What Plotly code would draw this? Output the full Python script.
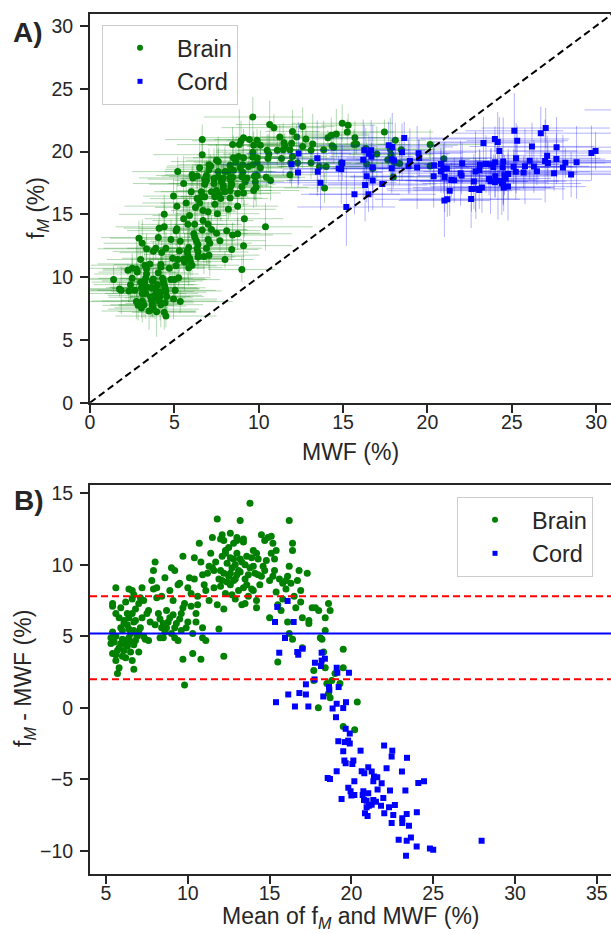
import plotly.graph_objects as go

# ---------------- data (panel B coordinates) ----------------
# Brain: mean of fM and MWF (%), and difference fM - MWF (%)
brain_mean = [
    5.3, 5.3, 5.4, 5.4, 5.4, 5.6, 5.7, 5.8, 5.6, 5.6,
    5.9, 6.1, 6.4, 6.4, 6.6, 6.7, 6.7, 6.6, 6.2, 7.0,
    5.9, 6.1, 6.4, 6.6, 6.8, 7.1, 5.6, 5.9, 6.1, 6.5,
    6.7, 7.0, 7.1, 7.2, 7.5, 7.6, 7.8, 7.9, 8.0, 8.1,
    8.1, 8.3, 8.5, 8.4, 8.5, 8.6, 8.7, 8.9, 9.0, 9.2,
    9.1, 9.2, 9.4, 9.5, 9.7, 9.7, 9.8, 9.6, 9.9, 9.7,
    10.0, 10.1, 10.3, 10.4, 10.5, 10.5, 10.7, 10.8, 10.9, 10.9,
    11.1, 11.1, 11.3, 11.4, 11.5, 11.6, 11.8, 11.9, 12.1, 12.2,
    12.2, 12.3, 12.6, 12.8, 13.0, 13.2, 13.1, 13.4, 13.5, 13.8,
    13.9, 14.0, 14.2, 14.3, 14.5, 14.7, 15.0, 15.1, 15.2, 15.3,
    15.4, 15.5, 15.5, 15.7, 15.8, 16.0, 16.2, 16.1, 16.2, 16.4,
    16.4, 16.4, 16.6, 16.8, 16.9, 17.0, 17.0, 17.3, 17.4, 17.4,
    17.6, 17.7, 17.7, 17.8, 17.98, 18.0, 18.1, 18.2, 18.3, 18.4,
    18.4, 18.4, 18.5, 18.6, 18.6, 18.7, 18.7, 18.8, 19.0, 19.3,
    19.5, 19.5, 19.5, 20.2, 20.36,
    11.5, 11.7, 11.9, 12.0, 12.1, 12.2, 12.3, 12.4, 12.5, 12.5,
    12.6, 12.7, 12.8, 12.9, 12.9, 13.0, 13.1, 13.2, 13.3, 13.4,
    13.5, 13.6, 13.7, 13.8, 14.0, 14.1, 14.3, 14.4, 14.6, 14.8,
    15.0, 15.2, 15.4, 15.6, 15.8, 16.0, 16.1, 16.3, 16.5, 16.7,
    16.9, 11.0, 11.2, 10.8, 10.6, 10.4, 10.2, 11.8, 12.2, 12.0,
    12.6, 13.0, 13.4, 14.9, 15.1, 14.5, 13.9, 12.8, 13.3, 14.2,
    5.6, 5.8, 6.0, 6.2, 6.3, 6.5, 6.7, 6.9, 6.0, 5.5,
    6.3, 6.6, 6.8, 7.2, 7.4, 7.7, 8.0, 8.2, 8.6, 8.8,
    9.0, 9.1, 9.3, 9.5, 9.8, 10.0, 10.2, 8.4, 8.9, 9.4,
    7.9, 7.3,
    12.0, 12.3, 12.6, 12.9, 13.2, 13.5, 13.7, 14.0, 12.4, 13.0,
    12.1, 13.6, 14.2, 11.6, 11.3, 10.9, 12.7, 14.7, 15.3, 16.2,
    5.4, 5.7, 6.0, 6.1, 6.3, 6.4, 6.5, 6.7, 6.8, 7.0,
    5.8, 6.2, 7.3, 7.6, 8.3, 8.7, 9.2, 9.6, 10.3, 10.6,
]
brain_diff = [
    4.9, 4.5, 3.8, 7.3, 7.1, 8.4, 2.4, 2.8, 3.3, 3.7,
    4.5, 4.0, 4.9, 8.3, 8.2, 7.9, 2.7, 3.3, 3.5, 3.9,
    5.6, 6.1, 6.3, 6.6, 6.1, 5.6, 6.6, 7.0, 4.5, 4.6,
    5.4, 7.3, 7.7, 8.4, 6.6, 4.7, 8.9, 9.6, 10.2, 8.4,
    7.7, 4.9, 4.9, 5.6, 5.9, 9.1, 6.8, 6.3, 9.8, 9.6,
    7.5, 4.9, 4.7, 8.7, 3.4, 10.6, 1.6, 5.4, 5.6, 7.0,
    8.4, 9.1, 3.8, 10.5, 6.6, 6.0, 11.5, 3.4, 4.9, 5.6,
    4.7, 8.2, 7.5, 10.8, 11.9, 9.6, 13.2, 5.5, 12.1, 3.6,
    11.7, 11.0, 10.5, 11.5, 11.9, 13.1, 9.6, 8.4, 7.3, 14.3,
    10.5, 8.2, 7.0, 9.3, 12.1, 11.7, 6.3, 10.8, 11.5, 9.6,
    11.0, 7.2, 3.2, 6.8, 8.7, 8.9, 13.1, 6.0, 5.2, 4.8,
    11.5, 11.0, 7.0, 9.6, 8.2, 6.3, 4.2, 9.4, 6.1, 5.9,
    7.0, 2.6, 1.9, 7.0, 0.0, 6.8, 4.9, 4.8, 3.9, 6.3,
    5.4, 2.8, 1.7, 7.3, 1.0, 6.8, 0.7, 1.9, 2.4, 1.7,
    2.8, 4.1, -1.31, -1.54, 0.4,
    9.8, 10.2, 9.0, 8.5, 10.6, 9.4, 8.0, 10.1, 9.2, 11.2,
    8.6, 9.8, 10.4, 7.6, 9.0, 10.8, 8.2, 9.5, 10.2, 11.6,
    9.0, 10.6, 7.8, 9.8, 11.0, 9.4, 10.4, 8.6, 9.9, 10.3,
    8.9, 9.2, 8.1, 9.0, 7.6, 8.3, 9.2, 8.7, 7.8, 8.9,
    7.4, 8.6, 9.4, 10.2, 7.8, 9.0, 8.0, 7.2, 6.9, 11.8,
    12.2, 11.7, 11.8, 11.9, 12.0, 9.2, 8.3, 8.9, 7.2, 7.5,
    5.0, 4.2, 5.4, 4.7, 5.8, 5.2, 4.4, 5.0, 3.6, 4.6,
    6.6, 7.6, 6.9, 6.3, 4.8, 6.0, 5.8, 6.6, 5.3, 6.0,
    5.2, 6.5, 5.9, 6.2, 7.3, 6.0, 7.1, 7.8, 8.2, 8.6,
    8.3, 7.5,
    9.6, 10.8, 9.4, 10.0, 10.4, 10.0, 9.3, 9.9, 8.8, 9.3,
    8.9, 8.6, 10.8, 8.4, 9.9, 9.3, 7.9, 9.6, 10.4, 9.9,
    5.3, 4.0, 4.8, 5.9, 4.3, 5.5, 3.9, 6.0, 4.7, 5.3,
    6.3, 7.4, 5.0, 6.8, 6.2, 5.6, 5.6, 6.6, 5.2, 7.2,
]
# Brain error bars (panel A): MWF spread and fM spread (%)
brain_mwf_err = [
    2.1, 1.6, 2.8, 3.2, 1.4, 2.5, 3.0, 1.9, 2.3, 2.7,
    1.8, 3.4, 2.2, 1.5, 2.9, 2.0, 3.1, 2.6, 1.7, 2.4,
    3.3, 1.9, 2.1, 2.8, 1.6, 2.5, 3.0, 2.2, 1.8, 2.7,
    2.4, 1.5, 3.2, 2.0, 2.6, 1.9, 2.9, 2.3, 1.7, 3.1,
    2.5, 2.0, 2.8, 1.6, 2.2, 3.4, 1.9, 2.6, 2.1, 2.9,
    1.8, 2.4, 3.0, 2.2, 1.7, 2.7, 2.0, 3.3, 2.5, 1.9,
    2.8, 2.3, 1.6, 3.1, 2.1, 2.6, 1.8, 2.9, 2.4, 2.0,
    3.2, 1.7, 2.5, 2.2, 3.0, 1.9, 2.7, 2.3, 1.6, 2.8,
    2.1, 3.4, 2.0, 2.6, 1.8, 2.9, 2.4, 1.7, 3.1, 2.2,
    2.5, 1.9, 2.8, 2.0, 3.3, 2.3, 1.6, 2.7, 2.1, 3.0,
    1.8, 2.6, 2.4, 3.2, 1.9, 2.2, 2.9, 1.7, 2.5, 2.8,
    2.0, 3.1, 2.3, 1.6, 2.7, 2.4, 3.0, 1.9, 2.6, 2.1,
    3.4, 1.8, 2.5, 2.2, 2.9, 2.0, 3.3, 1.7, 2.4, 2.8,
    2.1, 2.6, 1.9, 3.0, 2.3, 1.6, 2.7, 2.5, 3.2, 2.0,
    1.8, 2.9, 2.2, 2.6, 3.1, 1.7, 2.4, 2.0, 2.8, 3.3,
    2.3, 1.9, 2.7, 2.1, 3.0, 2.5, 1.6, 2.9, 2.2, 2.6,
    3.2, 1.8, 2.4, 2.0, 2.8, 3.4, 2.1, 1.7, 2.5, 2.9,
    2.3, 3.0, 1.9, 2.6, 2.2, 1.8, 2.7, 3.1, 2.4, 2.0,
    2.8, 1.6, 2.5, 3.3, 2.1, 2.9, 1.9, 2.3, 2.6, 3.0,
    2.2, 1.7, 2.8, 2.4, 3.2, 2.0, 2.6, 1.8, 2.9, 2.5,
    3.1, 2.1, 1.9, 2.7, 2.3, 3.0, 1.6, 2.4, 2.8, 2.2,
    2.6, 3.3, 1.8, 2.5, 2.0, 2.9, 2.3, 3.1, 1.7, 2.7,
    2.1, 2.4, 3.0, 1.9, 2.6, 2.2, 2.8, 1.8, 2.5, 3.2,
    2.0, 2.7, 2.3, 1.6, 2.9, 2.4, 3.1,
    2.4, 1.9, 2.7, 2.2, 3.0, 1.8, 2.5, 2.9, 2.1, 2.6,
    1.7, 3.2, 2.3, 2.0, 2.8, 2.4, 1.9, 3.1, 2.2, 2.6,
    2.9, 2.0, 2.5, 3.3, 1.8, 2.7, 2.2, 3.0, 2.4, 1.9,
    2.6, 3.2, 2.1, 2.8, 1.7, 2.5, 3.0, 2.3, 2.7, 2.0,
]
brain_fm_err = [
    1.2, 0.8, 1.5, 0.6, 1.9, 1.1, 0.9, 1.4, 2.0, 0.7,
    1.3, 1.0, 1.7, 0.5, 1.2, 2.2, 0.9, 1.6, 1.1, 0.8,
    1.4, 1.8, 0.6, 1.0, 1.5, 2.4, 0.9, 1.2, 1.7, 1.1,
    0.8, 1.3, 2.0, 1.0, 1.6, 0.7, 1.2, 1.9, 1.4, 0.9,
    1.1, 1.5, 0.8, 2.3, 1.0, 1.3, 1.7, 0.6, 1.2, 1.8,
    0.9, 1.4, 1.1, 2.1, 0.7, 1.6, 1.0, 1.3, 2.6, 0.8,
    1.5, 1.2, 0.9, 1.8, 1.1, 0.6, 1.4, 2.0, 1.0, 1.7,
    1.3, 0.8, 1.6, 1.1, 2.2, 0.9, 1.2, 1.5, 0.7, 1.9,
    1.0, 1.4, 2.4, 0.8, 1.3, 1.1, 1.7, 0.6, 1.5, 1.2,
    2.0, 0.9, 1.6, 1.0, 1.4, 2.8, 0.7, 1.1, 1.8, 1.3,
    0.9, 1.5, 1.2, 0.8, 2.1, 1.0, 1.6, 1.3, 0.7, 1.4,
    1.9, 1.1, 0.8, 1.7, 1.2, 2.3, 0.9, 1.5, 1.0, 1.3,
    0.6, 1.8, 1.1, 1.4, 0.9, 2.0, 1.2, 0.8, 1.6, 1.0,
    1.3, 2.2, 0.7, 1.5, 1.1, 0.9, 1.7, 1.2, 2.5, 0.8,
    1.4, 1.0, 1.6, 0.9, 1.2, 2.1, 0.7, 1.3, 1.8, 1.1,
    0.8, 1.5, 1.2, 1.9, 1.0, 0.6, 1.4, 2.3, 1.1, 1.7,
    0.9, 1.3, 1.6, 0.8, 2.0, 1.2, 1.0, 1.5, 0.7, 1.8,
    1.1, 1.4, 2.2, 0.9, 1.3, 1.0, 1.6, 0.8, 1.2, 1.9,
    1.5, 0.7, 1.1, 1.7, 1.0, 2.4, 1.3, 0.9, 1.4, 1.2,
    1.8, 1.0, 0.8, 1.5, 1.1, 2.1, 0.9, 1.3, 1.6, 0.7,
    1.2, 1.9, 1.0, 1.4, 0.8, 1.7, 1.1, 2.0, 1.3, 0.9,
    1.5, 1.2, 0.6, 1.8, 1.0, 1.4, 2.2, 0.9, 1.1, 1.6,
    1.3, 0.8, 1.5, 1.2, 1.9, 1.0, 1.7, 0.7, 1.4, 1.1,
    2.0, 0.9, 1.3, 1.6, 1.2, 0.8, 1.5,
    1.1, 1.6, 0.8, 1.3, 2.0, 0.9, 1.4, 1.7, 1.0, 1.2,
    1.8, 0.7, 1.5, 1.1, 2.2, 1.3, 0.9, 1.6, 1.2, 1.0,
    1.4, 0.8, 1.7, 1.2, 1.9, 1.0, 1.5, 0.9, 2.1, 1.3,
    1.1, 1.6, 0.8, 1.4, 1.8, 1.2, 1.0, 1.5, 0.9, 1.3,
]

# Cord: mean of fM and MWF (%), and difference fM - MWF (%)
cord_mean = [
    15.47, 16.1, 15.33, 16.47, 15.94, 15.59, 16.69, 16.75, 17.02, 18.18,
    17.77, 18.18, 18.38, 18.14, 19.1, 19.14, 19.85, 17.22, 17.75, 18.63,
    18.65, 19.22, 16.14, 16.82, 17.22, 18.28, 15.39, 16.55, 17.37, 19.1,
    19.67, 18.85, 19.5, 19.06,
    19.65, 19.9, 19.2, 19.6, 19.8, 19.9, 19.5, 20.56, 22.0, 22.5,
    22.46, 23.4, 19.57, 19.65, 20.12, 20.06, 19.1, 21.03, 20.63, 20.79,
    21.24, 21.38, 21.58, 22.15, 23.09, 24.09, 24.44, 18.55, 18.69, 20.18,
    21.34, 21.85, 19.81, 19.95, 20.0, 20.18, 20.73, 20.69, 21.03, 21.6,
    22.36, 23.3, 19.4, 20.77, 20.93, 21.34, 21.5, 21.95, 20.93, 21.07,
    21.24, 21.81, 22.3, 22.66, 20.83, 20.99, 22.01, 22.56, 23.38, 24.0,
    22.46, 23.11, 23.11, 23.52, 22.89, 23.38, 23.64, 23.99, 23.34, 24.8,
    25.0, 27.96,
]
cord_diff = [
    7.05, 7.47, 6.0, 6.0, 4.88, 3.85, 3.9, 3.71, 4.13, 3.85,
    3.15, 3.3, 3.43, 2.92, 2.8, 2.45, 2.45, 1.64, 1.98, 1.45,
    1.26, 1.45, 0.93, 1.03, 0.93, 0.79, 0.39, 0.09, 0.09, 0.28,
    0.39, -0.05, -0.02, -0.66,
    -1.47, -1.8, -2.34, -2.4, -2.3, -2.5, -3.04, -3.0, -2.64, -3.0,
    -3.41, -3.5, -3.69, -3.88, -3.69, -3.93, -4.44, -4.16, -4.44, -4.58,
    -4.46, -4.81, -4.86, -4.23, -4.46, -5.26, -5.14, -4.91, -4.98, -5.14,
    -5.14, -5.28, -5.6, -5.84, -6.14, -6.1, -5.84, -6.1, -5.98, -5.72,
    -5.79, -5.79, -6.38, -6.45, -6.5, -6.45, -6.57, -6.31, -6.96, -6.85,
    -6.78, -6.85, -6.96, -6.8, -7.38, -7.57, -7.38, -7.5, -7.43, -7.31,
    -8.06, -7.73, -8.06, -8.25, -9.23, -9.3, -9.07, -9.7, -10.35, -9.84,
    -9.93, -9.3,
]
cord_mwf_err = [
    4.2, 3.1, 5.0, 2.6, 3.8, 4.5, 2.9, 3.4, 5.3, 2.7,
    3.9, 4.8, 3.2, 2.5, 4.1, 3.6, 5.5, 2.8, 3.3, 4.6,
    3.0, 4.4, 2.7, 3.7, 5.1, 3.5, 2.9, 4.0, 3.2, 4.9,
    2.6, 3.8, 4.3, 3.1, 5.2, 2.8, 3.6, 4.7, 3.0, 4.1,
    5.6, 3.3, 2.7, 4.4, 3.9, 2.9, 5.0, 3.5, 4.2, 2.6,
    3.7, 4.8, 3.1, 5.4, 2.8, 4.0, 3.4, 4.6, 3.0, 5.1,
    3.8, 2.7, 4.3, 3.2, 4.9, 3.6, 2.9, 5.3, 3.9, 4.1,
    3.0, 4.5, 3.4, 2.8, 5.0, 3.7, 4.2, 3.1, 5.5, 2.9,
    4.0, 3.5, 4.7, 3.3, 2.7, 4.4, 3.8, 5.2, 3.0, 4.6,
    3.2, 4.9, 2.8, 3.6, 5.1, 4.1, 3.4, 2.9, 4.3, 3.7,
    5.8, 3.1, 4.5, 3.9, 4.8, 3.3,
]
cord_fm_err = [
    1.8, 2.5, 1.2, 3.0, 1.6, 2.2, 1.0, 2.8, 1.4, 2.0,
    3.2, 1.5, 2.4, 1.1, 1.9, 2.7, 1.3, 2.1, 3.4, 1.7,
    1.0, 2.3, 1.6, 2.9, 1.2, 2.0, 3.1, 1.4, 1.8, 2.6,
    1.1, 2.2, 1.5, 3.3, 1.9, 1.3, 2.5, 1.7, 2.0, 1.2,
    2.8, 1.6, 2.1, 1.0, 2.4, 3.0, 1.4, 1.8, 2.6, 1.5,
    2.0, 1.1, 3.2, 1.7, 2.3, 1.3, 1.9, 2.7, 1.2, 2.1,
    1.6, 2.9, 1.4, 2.2, 1.0, 3.5, 1.8, 2.4, 1.5, 2.0,
    1.3, 2.6, 1.7, 1.1, 2.8, 1.9, 2.3, 1.2, 3.1, 1.6,
    2.0, 1.4, 2.5, 1.8, 1.0, 2.2, 3.0, 1.5, 1.9, 2.7,
    1.3, 2.1, 1.6, 2.4, 1.1, 3.3, 1.7, 2.0, 1.4, 2.6,
    1.2, 2.9, 1.8, 2.2, 1.5, 2.0,
]

bias = 5.2
loa_upper = 7.8
loa_lower = 2.0
identity_line = [0, 31]

ticks_a = [0, 5, 10, 15, 20, 25, 30]
ticks_bx = [5, 10, 15, 20, 25, 30, 35]
ticks_by = [-10, -5, 0, 5, 10, 15]

# panel A values from panel B values
brain_mwf = [m - d / 2 for m, d in zip(brain_mean, brain_diff)]
brain_fm = [m + d / 2 for m, d in zip(brain_mean, brain_diff)]
cord_mwf = [m - d / 2 for m, d in zip(cord_mean, cord_diff)]
cord_fm = [m + d / 2 for m, d in zip(cord_mean, cord_diff)]

# ---------------- styling ----------------
W, H = 611, 934
FONT = "Liberation Sans, Arial, sans-serif"
INK = "#262626"
GREEN = "#008000"
BLUE = "#0000ff"


def px_x(p):
    return p / W


def px_y(p):
    return 1 - p / H


fig = go.Figure()

fig.add_trace(go.Scatter(
    x=brain_mwf, y=brain_fm, mode="markers", xaxis="x", yaxis="y",
    marker=dict(symbol="circle", size=7, color=GREEN),
    error_x=dict(type="data", array=brain_mwf_err, color="rgba(0,128,0,0.3)", thickness=1, width=0),
    error_y=dict(type="data", array=brain_fm_err, color="rgba(0,128,0,0.3)", thickness=1, width=0),
    showlegend=False, hoverinfo="skip"))
fig.add_trace(go.Scatter(
    x=cord_mwf, y=cord_fm, mode="markers", xaxis="x", yaxis="y",
    marker=dict(symbol="square", size=6, color=BLUE),
    error_x=dict(type="data", array=cord_mwf_err, color="rgba(0,0,255,0.3)", thickness=1, width=0),
    error_y=dict(type="data", array=cord_fm_err, color="rgba(0,0,255,0.3)", thickness=1, width=0),
    showlegend=False, hoverinfo="skip"))
fig.add_trace(go.Scatter(
    x=identity_line, y=identity_line, mode="lines", xaxis="x", yaxis="y",
    line=dict(color="black", width=2, dash="7px,4px"), showlegend=False, hoverinfo="skip"))

fig.add_trace(go.Scatter(
    x=brain_mean, y=brain_diff, mode="markers", xaxis="x2", yaxis="y2",
    marker=dict(symbol="circle", size=7, color=GREEN), showlegend=False, hoverinfo="skip"))
fig.add_trace(go.Scatter(
    x=cord_mean, y=cord_diff, mode="markers", xaxis="x2", yaxis="y2",
    marker=dict(symbol="square", size=6, color=BLUE), showlegend=False, hoverinfo="skip"))

# legend-only entries (small markers like the original)
for name, sym, size, col, lg, xa, ya in [
    ("Brain", "circle", 6, GREEN, "legend", "x", "y"),
    ("Cord", "square", 5, BLUE, "legend", "x", "y"),
    ("Brain", "circle", 6, GREEN, "legend2", "x2", "y2"),
    ("Cord", "square", 5, BLUE, "legend2", "x2", "y2"),
]:
    fig.add_trace(go.Scatter(x=[None], y=[None], mode="markers", name=name, legend=lg,
                             xaxis=xa, yaxis=ya,
                             marker=dict(symbol=sym, size=size, color=col)))

shapes = []
for yv, col, dash in [(loa_upper, "red", "7px,4px"), (bias, BLUE, "solid"), (loa_lower, "red", "7px,4px")]:
    shapes.append(dict(type="line", xref="x2 domain", yref="y2", x0=0, x1=1, y0=yv, y1=yv,
                       line=dict(color=col, width=2, dash=dash), layer="above"))

axis_common = dict(
    showgrid=False, zeroline=False, showline=True, linecolor=INK, linewidth=2,
    ticks="outside", ticklen=8, tickwidth=2, tickcolor=INK, automargin=False,
    tickfont=dict(family=FONT, size=19.5, color=INK),
)

dom_x = [90 / W, 1.0]
fig.update_layout(
    template="none",
    width=W, height=H, margin=dict(l=0, r=0, t=0, b=0, pad=0), autosize=False,
    paper_bgcolor="white", plot_bgcolor="white",
    font=dict(family=FONT, color=INK),
    xaxis=dict(domain=dom_x, range=[0, 30.88], tickvals=ticks_a, anchor="y", mirror=True,
               ticklabelstandoff=-7, **axis_common),
    yaxis=dict(domain=[px_y(402.7), px_y(14)], range=[0, 30.95], tickvals=ticks_a, anchor="x",
               ticklabelstandoff=3, **axis_common),
    xaxis2=dict(domain=dom_x, range=[4.02, 35.87], tickvals=ticks_bx, anchor="y2", mirror=True,
                ticklabelstandoff=-7, **axis_common),
    yaxis2=dict(domain=[px_y(873.5), px_y(484.7)], range=[-11.59, 15.6], tickvals=ticks_by, anchor="x2",
                ticklabelstandoff=3, **axis_common),
    legend=dict(x=px_x(102), y=px_y(25), xanchor="left", yanchor="top",
                bgcolor="rgba(255,255,255,0.8)", bordercolor="#cccccc", borderwidth=1,
                font=dict(family=FONT, size=23.5, color=INK), itemwidth=64, tracegroupgap=0),
    legend2=dict(x=px_x(457), y=px_y(497), xanchor="left", yanchor="top",
                 bgcolor="rgba(255,255,255,0.8)", bordercolor="#cccccc", borderwidth=1,
                 font=dict(family=FONT, size=23.5, color=INK), itemwidth=64, tracegroupgap=0),
    shapes=shapes,
)

ann = [
    dict(text="<b>A)</b>", x=px_x(28), y=px_y(32), font=dict(size=28, color=INK)),
    dict(text="<b>B)</b>", x=px_x(29), y=px_y(500), font=dict(size=28, color=INK)),
    dict(text="MWF (%)", x=px_x(350.5), y=px_y(452), font=dict(size=23, color=INK)),
    dict(text="Mean of f<sub><i>M</i></sub> and MWF (%)", x=px_x(350.5), y=px_y(917), font=dict(size=23, color=INK)),
    dict(text="f<sub><i>M</i></sub> (%)", x=px_x(37), y=px_y(208), textangle=-90, font=dict(size=23, color=INK)),
    dict(text="f<sub><i>M</i></sub> - MWF (%)", x=px_x(24), y=px_y(679), textangle=-90, font=dict(size=23, color=INK)),
]
for a in ann:
    fig.add_annotation(xref="paper", yref="paper", xanchor="center", yanchor="middle",
                       showarrow=False, font_family=FONT, **{k: v for k, v in a.items()})

fig.write_html(
    "out.html",
    config={"displayModeBar": False},
    post_script="document.body.style.margin='0px';document.body.style.padding='0px';"
                "document.documentElement.style.overflow='hidden';",
)
